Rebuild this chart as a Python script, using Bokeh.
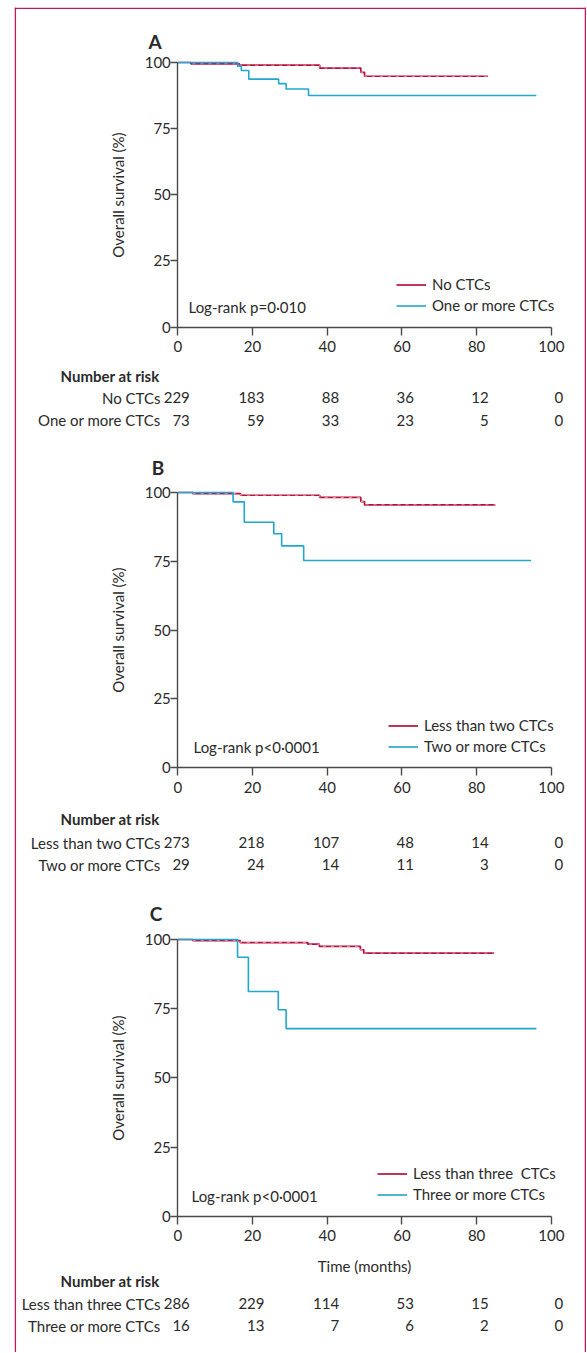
from bokeh.plotting import figure
from bokeh.models import Range1d, LinearAxis, FixedTicker, Legend, LegendItem, Span
from bokeh.core.properties import value
from bokeh.embed import file_html
from bokeh.resources import INLINE

# ---------------- data ----------------
x_ticks = [0, 20, 40, 60, 80, 100]
y_ticks = [0, 25, 50, 75, 100]

# Panel A
a_labels = ["No CTCs", "One or more CTCs"]
a_red_t = [0, 3.5, 16.5, 38, 49, 50, 83]
a_red_s = [100, 99.5, 99.0, 97.9, 96.3, 94.8, 94.8]
a_cyan_t = [0, 16, 17, 19, 27, 29, 35, 96]
a_cyan_s = [100, 98.6, 97.0, 93.7, 92.0, 90.0, 87.5, 87.5]
a_risk_red = ["229", "183", "88", "36", "12", "0"]
a_risk_cyan = ["73", "59", "33", "23", "5", "0"]
a_pval = "Log-rank p=0·010"

# Panel B
b_labels = ["Less than two CTCs", "Two or more CTCs"]
b_red_t = [0, 4, 16.8, 38, 49, 50, 85]
b_red_s = [100, 99.6, 99.0, 98.2, 96.7, 95.5, 95.5]
b_cyan_t = [0, 14.8, 17.8, 25.7, 27.8, 33.7, 94.6]
b_cyan_s = [100, 96.6, 89.2, 85.0, 80.6, 75.3, 75.3]
b_risk_red = ["273", "218", "107", "48", "14", "0"]
b_risk_cyan = ["29", "24", "14", "11", "3", "0"]
b_pval = "Log-rank p<0·0001"

# Panel C
c_labels = ["Less than three  CTCs", "Three or more CTCs"]
c_table_labels = ["Less than three CTCs", "Three or more CTCs"]
c_red_t = [0, 4, 16.7, 34.8, 37.9, 48.9, 49.8, 84.7]
c_red_s = [100, 99.6, 98.9, 98.3, 97.5, 96.3, 95.1, 95.1]
c_cyan_t = [0, 16, 18.9, 26.9, 29, 96]
c_cyan_s = [100, 93.6, 81.2, 74.6, 67.8, 67.8]
c_risk_red = ["286", "229", "114", "53", "15", "0"]
c_risk_cyan = ["16", "13", "7", "6", "2", "0"]
c_pval = "Log-rank p<0·0001"

# ---------------- layout ----------------
W, H = 586, 1352
MB_LEFT = 14
PAGE_OFF = 0
PX0, PX100 = 177.3, 550.8          # page x of time 0 and 100
SC = (PX100 - PX0) / 100.0
FRAME_L = PAGE_OFF + MB_LEFT
FRAME_R = PAGE_OFF + W
FRAME_T = PAGE_OFF + 7
FRAME_B = PAGE_OFF + H


def px2x(px):
    return (px - PX0) / SC


FONT = value("Lato")
TXT = "#2a2a2a"
RED = "#b3123d"
RED_LIGHT = "#e893ab"
CYAN = "#22a6cf"
AXC = "#4a4a4a"
BORDER = "#c2185b"

p = figure(width=W, height=H,
           x_range=Range1d(px2x(FRAME_L), px2x(FRAME_R)),
           y_range=Range1d(FRAME_B, FRAME_T),
           x_axis_type=None, y_axis_type=None,
           output_backend="svg", toolbar_location=None,
           min_border_left=MB_LEFT, min_border_right=0,
           min_border_top=7, min_border_bottom=0)
p.grid.visible = False
p.outline_line_color = None
p.background_fill_color = "white"

# page border (left, right, top)
p.add_layout(Span(location=px2x(FRAME_L + 0.8), dimension="height", line_color=BORDER, line_width=1.5))
p.add_layout(Span(location=px2x(FRAME_R - 1), dimension="height", line_color=BORDER, line_width=1.5))
p.add_layout(Span(location=FRAME_T + 0.8, dimension="width", line_color=BORDER, line_width=1.5))

panels = [
    dict(name="A", y0=326.5, y100=62.0, title_xy=(154.5, 40.5),
         red=(a_red_t, a_red_s), cyan=(a_cyan_t, a_cyan_s), labels=a_labels,
         tlabels=a_labels, risk=(a_risk_red, a_risk_cyan), pval=a_pval,
         pval_xy=(188, 306.5), leg_xy=(396, 284.3),
         table_y=(375, 397, 419.5), xlabel=None),
    dict(name="B", y0=767.0, y100=492.0, title_xy=(157.5, 466.7),
         red=(b_red_t, b_red_s), cyan=(b_cyan_t, b_cyan_s), labels=b_labels,
         tlabels=b_labels, risk=(b_risk_red, b_risk_cyan), pval=b_pval,
         pval_xy=(193, 746.5), leg_xy=(388, 725),
         table_y=(818, 842, 864), xlabel=None),
    dict(name="C", y0=1215.7, y100=939.0, title_xy=(155.5, 913),
         red=(c_red_t, c_red_s), cyan=(c_cyan_t, c_cyan_s), labels=c_labels,
         tlabels=c_table_labels, risk=(c_risk_red, c_risk_cyan), pval=c_pval,
         pval_xy=(191, 1195), leg_xy=(377, 1173.3),
         table_y=(1280, 1303, 1325), xlabel="Time (months)"),
]

for pn in panels:
    nm = pn["name"]
    spp = (pn["y0"] - pn["y100"]) / 100.0
    p.extra_y_ranges[nm] = Range1d((pn["y0"] - FRAME_B) / spp, (pn["y0"] - FRAME_T) / spp)

    # survival curves
    rt, rs = pn["red"]
    ct, cs = pn["cyan"]
    r_red = p.step(rt, rs, mode="after", line_color=RED, line_width=1.7, y_range_name=nm)
    p.step(rt, rs, mode="after", line_color=RED_LIGHT, line_width=1.0, line_dash="3 5", y_range_name=nm)
    r_cyan = p.step(ct, cs, mode="after", line_color=CYAN, line_width=1.6, y_range_name=nm)

    # axes
    ya = LinearAxis(y_range_name=nm, fixed_location=0, bounds=(0, 100),
                    ticker=FixedTicker(ticks=y_ticks),
                    axis_label="Overall survival (%)")
    xa = LinearAxis(y_range_name=nm, fixed_location=0, bounds=(0, 100),
                    ticker=FixedTicker(ticks=x_ticks),
                    axis_label=pn["xlabel"])
    for ax in (ya, xa):
        ax.axis_line_color = AXC
        ax.axis_line_width = 1.4
        ax.major_tick_line_color = AXC
        ax.major_tick_line_width = 1.4
        ax.major_tick_in = 0
        ax.major_tick_out = 8
        ax.minor_tick_line_color = None
        ax.major_label_text_font = "Lato"
        ax.major_label_text_font_size = "15px"
        ax.major_label_text_color = TXT
        ax.axis_label_text_font = "Lato"
        ax.axis_label_text_font_size = "15px"
        ax.axis_label_text_font_style = "normal"
        ax.axis_label_text_color = TXT
    ya.major_tick_out = 7
    ya.major_label_standoff = 0
    ya.axis_label_standoff = 14
    xa.major_label_standoff = 6
    xa.axis_label_standoff = 12
    p.add_layout(ya, "left")
    p.add_layout(xa, "below")

    # panel letter
    tx, ty = pn["title_xy"]
    p.text(x=[px2x(tx)], y=[ty], text=[nm], text_font=FONT, text_font_size="19px",
           text_font_style="bold", text_color=TXT, text_align="center", text_baseline="middle")

    # log-rank text
    lx, ly = pn["pval_xy"]
    p.text(x=[px2x(lx)], y=[ly], text=[pn["pval"]], text_font=FONT, text_font_size="15px",
           text_color=TXT, text_align="left", text_baseline="middle")

    # legend
    gx, gy = pn["leg_xy"]
    leg = Legend(items=[LegendItem(label=pn["labels"][0], renderers=[r_red]),
                        LegendItem(label=pn["labels"][1], renderers=[r_cyan])],
                 location=(gx - FRAME_L, FRAME_B - (gy - 10.5 + 42)),
                 border_line_color=None, background_fill_alpha=0,
                 padding=0, margin=0, spacing=0,
                 glyph_width=30, glyph_height=21, label_height=21,
                 label_standoff=6, label_text_font="Lato", label_text_font_size="15px",
                 label_text_color=TXT)
    p.add_layout(leg)

    # number at risk table
    hy, r1y, r2y = pn["table_y"]
    p.text(x=[px2x(159)], y=[hy], text=["Number at risk"], text_font=FONT, text_font_size="15px",
           text_font_style="bold", text_color=TXT, text_align="right", text_baseline="middle")
    p.text(x=[px2x(160), px2x(160)], y=[r1y, r2y], text=pn["tlabels"], text_font=FONT,
           text_font_size="15px", text_color=TXT, text_align="right", text_baseline="middle")
    rr, rc = pn["risk"]
    p.text(x=x_ticks, y=[r1y] * len(x_ticks), text=rr, text_font=FONT, text_font_size="15px",
           text_color=TXT, text_align="right", text_baseline="middle", x_offset=12)
    p.text(x=x_ticks, y=[r2y] * len(x_ticks), text=rc, text_font=FONT, text_font_size="15px",
           text_color=TXT, text_align="right", text_baseline="middle", x_offset=12)

open("out.html", "w").write(file_html(p, INLINE))
